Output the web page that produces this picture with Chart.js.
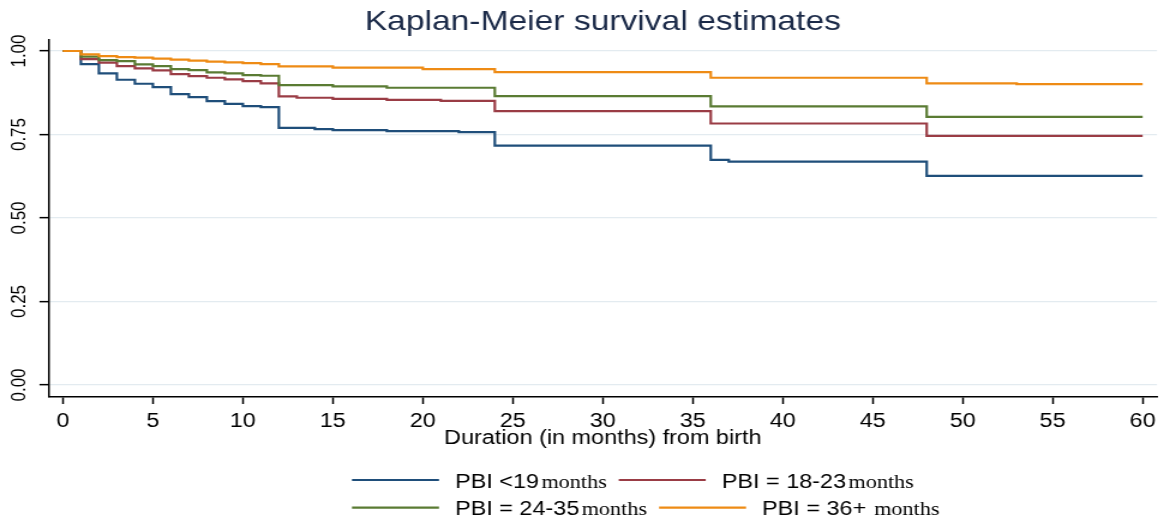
<!DOCTYPE html>
<html>
<head>
<meta charset="utf-8">
<script src="https://cdn.jsdelivr.net/npm/chart.js@4.4.1/dist/chart.umd.min.js"></script>
<style>
  html, body { margin: 0; padding: 0; background: #ffffff; }
  #c { display: block; width: 1164px !important; height: 522px !important; }
</style>
</head>
<body>
<canvas id="c" width="970" height="522" style="width:1164px;height:522px;display:block"></canvas>
<script>
// ---------- data ----------
const chartTitle = 'Kaplan-Meier survival estimates';
const xTitle = 'Duration (in months) from birth';

const xTickValues = [0, 5, 10, 15, 20, 25, 30, 35, 40, 45, 50, 55, 60];
const xTickLabels = ['0', '5', '10', '15', '20', '25', '30', '35', '40', '45', '50', '55', '60'];
const yTickValues = [0, 0.25, 0.5, 0.75, 1];
const yTickLabels = ['0.00', '0.25', '0.50', '0.75', '1.00'];

const seriesMain = ['PBI <19', 'PBI = 18-23', 'PBI = 24-35', 'PBI = 36+'];
const seriesUnit = ['months', 'months', 'months', ' months'];
const seriesColors = ['#1f4e7a', '#9a3c45', '#5a7b33', '#ee8b15'];

// survival step functions: time of each step (months) and survival after it
const pbiLt19Time = [0, 1, 2, 3, 4, 5, 6, 7, 8, 9, 10, 11, 12, 14, 15, 18, 22, 24, 36, 37, 48, 60];
const pbiLt19Surv = [1, 0.961, 0.933, 0.914, 0.902, 0.892, 0.871, 0.862, 0.850, 0.842, 0.835, 0.832, 0.770, 0.766, 0.763, 0.760, 0.757, 0.717, 0.674, 0.669, 0.626, 0.626];

const pbi1823Time = [0, 1, 2, 3, 4, 5, 6, 7, 8, 9, 10, 11, 12, 13, 15, 18, 21, 24, 36, 48, 60];
const pbi1823Surv = [1, 0.976, 0.965, 0.955, 0.948, 0.942, 0.931, 0.925, 0.920, 0.915, 0.910, 0.903, 0.864, 0.860, 0.857, 0.854, 0.851, 0.820, 0.783, 0.746, 0.746];

const pbi2435Time = [0, 1, 2, 3, 4, 5, 6, 7, 8, 9, 10, 11, 12, 15, 18, 24, 36, 48, 60];
const pbi2435Surv = [1, 0.983, 0.973, 0.970, 0.960, 0.955, 0.946, 0.943, 0.936, 0.933, 0.928, 0.926, 0.898, 0.894, 0.890, 0.865, 0.834, 0.803, 0.803];

const pbi36Time = [0, 1, 2, 3, 4, 5, 6, 7, 8, 9, 10, 11, 12, 15, 20, 24, 36, 48, 53, 60];
const pbi36Surv = [1, 0.990, 0.985, 0.982, 0.980, 0.977, 0.974, 0.971, 0.968, 0.966, 0.964, 0.961, 0.954, 0.950, 0.946, 0.937, 0.920, 0.903, 0.901, 0.901];

// ---------- build ----------
const seriesTimes = [pbiLt19Time, pbi1823Time, pbi2435Time, pbi36Time];
const seriesSurv = [pbiLt19Surv, pbi1823Surv, pbi2435Surv, pbi36Surv];

const SANS = '"Liberation Sans", Arial, Helvetica, sans-serif';
const SERIF = '"Liberation Serif", "Times New Roman", serif';

const datasets = seriesMain.map((name, i) => ({
  label: name + (seriesUnit[i].startsWith(' ') ? '' : ' ') + seriesUnit[i],
  data: seriesTimes[i].map((t, k) => ({ x: t, y: seriesSurv[i][k] })),
  borderColor: seriesColors[i],
  backgroundColor: seriesColors[i],
  borderWidth: 2.2,
  pointRadius: 0,
  pointHoverRadius: 0,
  fill: false,
  stepped: 'before',
  tension: 0,
  order: 3 - i
}));

const overlay = {
  id: 'overlay',
  afterDraw(chart) {
    const ctx = chart.ctx;
    const ys = chart.scales.y;
    ctx.save();
    // rotated y tick labels
    ctx.fillStyle = '#000';
    ctx.font = '17px ' + SANS;
    ctx.textAlign = 'center';
    ctx.textBaseline = 'middle';
    yTickValues.forEach((v, i) => {
      const py = ys.getPixelForValue(v);
      ctx.save();
      ctx.translate(16, py);
      ctx.rotate(-Math.PI / 2);
      ctx.fillText(yTickLabels[i], 0, 0);
      ctx.restore();
    });
    // legend (two rows, flowing)
    const rows = [[0, 1], [2, 3]];
    const lineY = [480, 507.7];
    const baseY = [487.7, 515];
    ctx.textAlign = 'left';
    ctx.textBaseline = 'alphabetic';
    rows.forEach((row, r) => {
      let x = 293.3;
      row.forEach(idx => {
        ctx.strokeStyle = seriesColors[idx];
        ctx.lineWidth = 2.2;
        ctx.beginPath();
        ctx.moveTo(x, lineY[r]);
        ctx.lineTo(x + 72.5, lineY[r]);
        ctx.stroke();
        x += 72.5 + 13.4;
        ctx.fillStyle = '#000';
        ctx.font = '19.5px ' + SANS;
        ctx.fillText(seriesMain[idx], x, baseY[r]);
        x += ctx.measureText(seriesMain[idx]).width + 2;
        ctx.font = '18.5px ' + SERIF;
        ctx.fillText(seriesUnit[idx], x, baseY[r]);
        x += ctx.measureText(seriesUnit[idx]).width + 10;
      });
    });
    ctx.restore();
  }
};

new Chart(document.getElementById('c'), {
  type: 'line',
  data: { datasets },
  options: {
    responsive: false,
    animation: false,
    events: [],
    layout: { padding: { left: 0, right: 5.8, top: 0, bottom: 69 } },
    plugins: {
      legend: { display: false },
      tooltip: { enabled: false },
      title: {
        display: true,
        text: chartTitle,
        fullSize: false,
        color: '#1b2a48',
        font: { family: SANS, size: 28, weight: 'normal' },
        padding: { top: 5.8, bottom: 0.6 }
      }
    },
    scales: {
      x: {
        type: 'linear',
        min: -0.8,
        max: 60.8,
        afterBuildTicks: s => { s.ticks = xTickValues.map(v => ({ value: v })); },
        afterFit: s => { s.height = 56; s.paddingLeft = 0; s.paddingRight = 0; },
        grid: { drawOnChartArea: false, drawTicks: true, tickLength: 7, tickColor: '#000', tickWidth: 1.5 },
        border: { display: true, color: '#000', width: 1.5 },
        ticks: {
          color: '#000',
          font: { family: SANS, size: 19.5 },
          padding: 6,
          maxRotation: 0,
          minRotation: 0,
          autoSkip: false,
          callback: (v, i) => xTickLabels[i]
        },
        title: {
          display: true,
          text: xTitle,
          color: '#000',
          font: { family: SANS, size: 19.5 },
          padding: { top: 0, bottom: 2.6 }
        }
      },
      y: {
        type: 'linear',
        min: -0.036,
        max: 1.033,
        afterBuildTicks: s => { s.ticks = yTickValues.map(v => ({ value: v })); },
        afterFit: s => { s.width = 40.4; s.paddingTop = 0; s.paddingBottom = 0; },
        grid: { color: '#e3ebf0', lineWidth: 1.3, drawTicks: true, tickLength: 7.5, tickColor: '#000', tickWidth: 1.5 },
        border: { display: true, color: '#000', width: 1.5 },
        ticks: { display: false }
      }
    }
  },
  plugins: [overlay]
});
</script>
</body>
</html>
